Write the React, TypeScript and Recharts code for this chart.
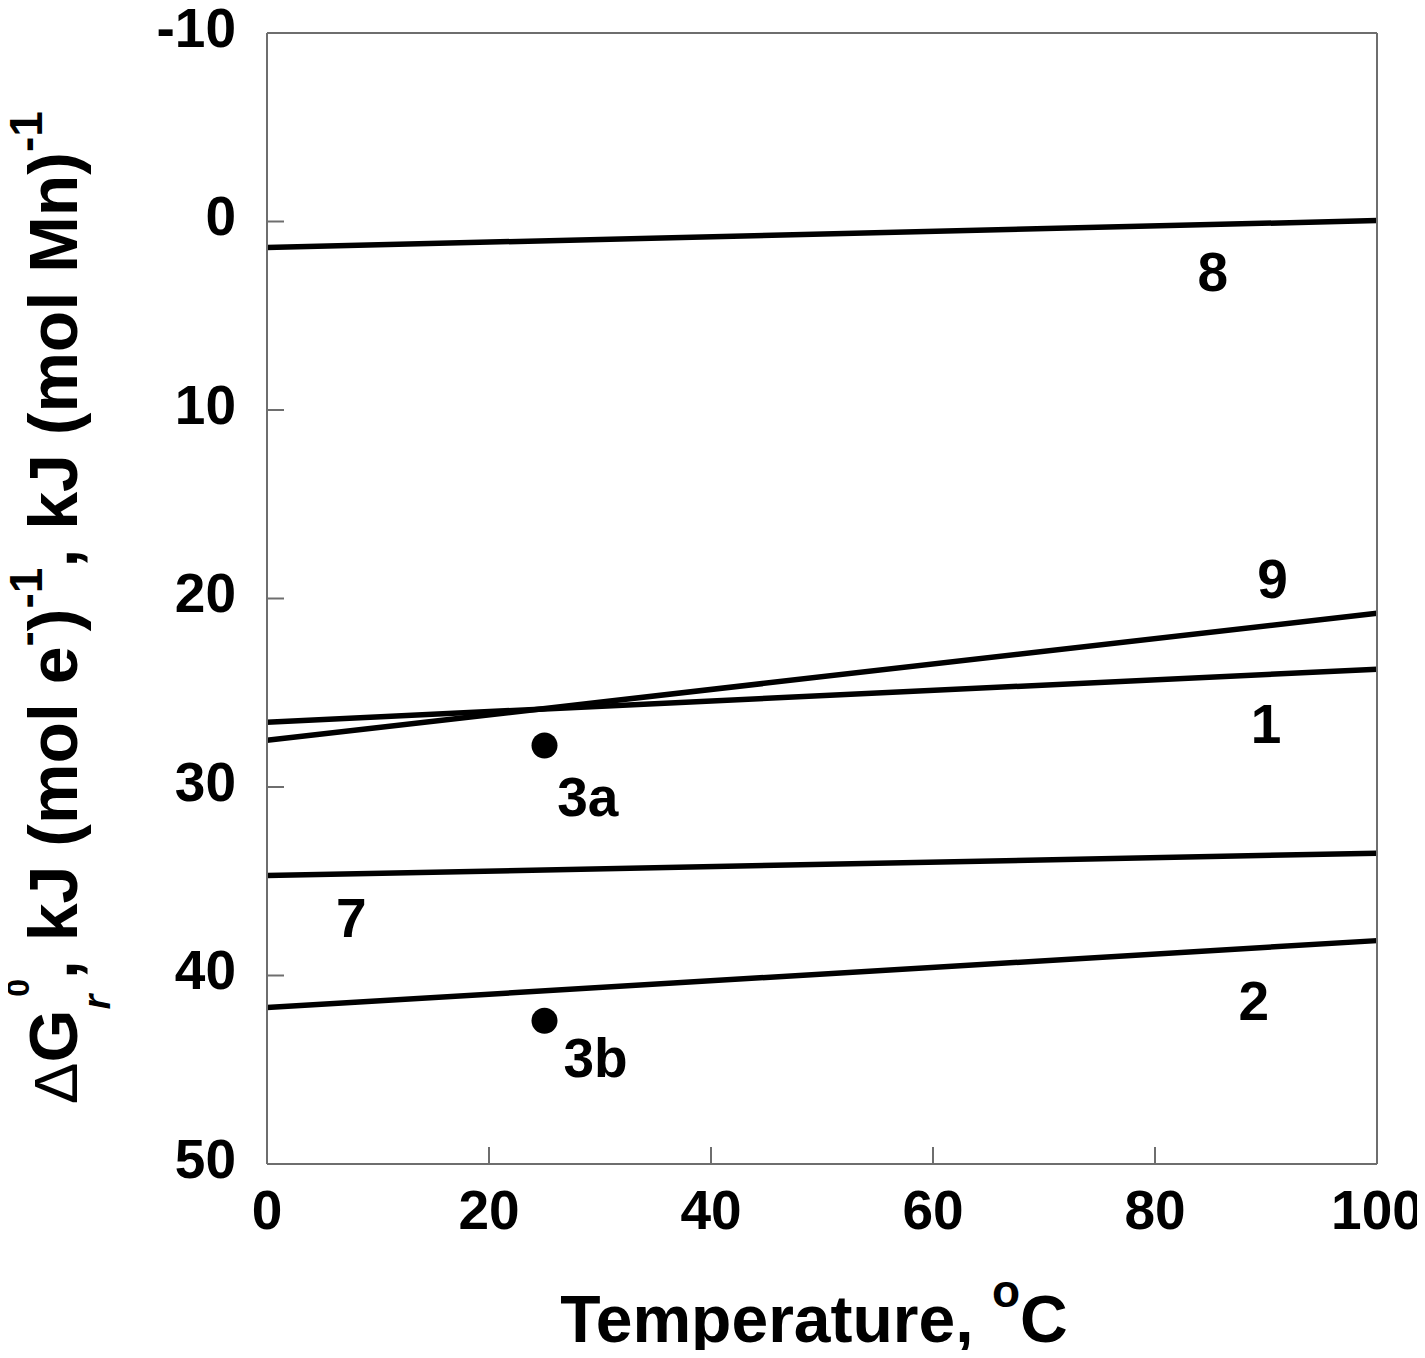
import React from 'react';
import { ComposedChart, Line, Scatter, XAxis, YAxis, Label } from 'recharts';

// temperature endpoints (°C) for the straight reaction lines
const temperature = [0, 100];

// ΔG°r values read at 0 °C and 100 °C
const curve1 = [26.56, 23.75];
const curve2 = [41.7, 38.15];
const curve7 = [34.7, 33.51];
const curve8 = [1.38, -0.05];
const curve9 = [27.52, 20.78];

// single points at 25 °C
const pointTemp = [25, 25];
const pointG = [27.8, 42.4];

// annotation labels
const labelNames = ['8', '9', '1', '3a', '7', '2', '3b'];
const labelTemp = [85.2, 90.6, 90.0, 28.9, 7.6, 88.9, 29.6];
const labelG = [2.65, 18.94, 26.6, 30.5, 36.9, 41.3, 44.35];

const xTicks = [0, 20, 40, 60, 80, 100];
const yTicks = [-10, 0, 10, 20, 30, 40, 50];

const FONT = '"Liberation Sans", Arial, sans-serif';
const FRAME = '#6e6e6e';

const toPoints = (ys: number[]) => temperature.map((x, i) => ({ x, y: ys[i] }));
const curves = [curve1, curve2, curve7, curve8, curve9].map(toPoints);
const points = pointTemp.map((x, i) => ({ x, y: pointG[i] }));
const labels = labelNames.map((name, i) => ({ x: labelTemp[i], y: labelG[i], name }));

const tickStyle = { fontSize: 55, fontWeight: 'bold', fill: '#000', fontFamily: FONT };
const frameLine = { stroke: FRAME, strokeWidth: 2 };

const NoTick = () => <g />;

const XTitle = (props: any) => {
  const { x, y, width } = props.viewBox;
  return (
    <text x={x + width / 2 - 8} y={y + 178} textAnchor="middle" fontSize={66} fontWeight="bold" fontFamily={FONT} fill="#000">
      Temperature,{' '}
      <tspan fontSize={46} dy={-35}>o</tspan>
      <tspan dy={35}>C</tspan>
    </text>
  );
};

const YTitle = (props: any) => {
  const { x, y, height } = props.viewBox;
  const bx = x - 30;
  const by = y + height / 2 + 9;
  return (
    <text x={bx} y={by} transform={`rotate(-90 ${bx} ${by})`} textAnchor="middle" fontSize={68} fontWeight="bold" fontFamily={FONT} fill="#000">
      <tspan fontWeight="normal" fontSize={62}>Δ</tspan>
      <tspan>G</tspan>
      <tspan fontSize={38} fontStyle="italic" dy={33}>r</tspan>
      <tspan fontSize={32} dx={-2} dy={-81}>0</tspan>
      <tspan dy={48}>, kJ (mol e</tspan>
      <tspan fontSize={46} dy={-35}>-</tspan>
      <tspan dy={35}>)</tspan>
      <tspan fontSize={46} dy={-35}>-1</tspan>
      <tspan dy={35}>, kJ (mol Mn)</tspan>
      <tspan fontSize={46} dy={-35}>-1</tspan>
    </text>
  );
};

const Dot = (props: any) => <circle cx={props.cx} cy={props.cy} r={13} fill="#000" />;

const Tag = (props: any) => (
  <text x={props.cx} y={props.cy} dy="0.36em" textAnchor="middle" fontSize={55} fontWeight="bold" fontFamily={FONT} fill="#000">
    {props.payload.name}
  </text>
);

export default function App() {
  return (
    <div style={{ width: 1425, height: 1358, margin: -8, background: '#fff' }}>
      <ComposedChart width={1425} height={1358} margin={{ top: 32, right: 47, left: 107, bottom: 44 }}>
        <XAxis
          dataKey="x"
          type="number"
          domain={[0, 100]}
          ticks={xTicks}
          interval={0}
          height={150}
          tickSize={-17}
          tickMargin={43}
          tick={tickStyle}
          axisLine={frameLine}
          tickLine={frameLine}
        >
          <Label content={XTitle} />
        </XAxis>
        <XAxis
          xAxisId="top"
          orientation="top"
          type="number"
          domain={[0, 100]}
          ticks={xTicks}
          interval={0}
          height={1}
          tickSize={-17}
          tick={NoTick}
          axisLine={frameLine}
          tickLine={frameLine}
        />
        <YAxis
          dataKey="y"
          type="number"
          domain={[-10, 50]}
          ticks={yTicks}
          interval={0}
          reversed
          width={160}
          tickSize={-17}
          tickMargin={48}
          tick={{ ...tickStyle, dy: -6 }}
          axisLine={frameLine}
          tickLine={frameLine}
        >
          <Label content={YTitle} />
        </YAxis>
        <YAxis
          yAxisId="right"
          orientation="right"
          type="number"
          domain={[-10, 50]}
          ticks={yTicks}
          interval={0}
          reversed
          width={1}
          tickSize={-17}
          tick={NoTick}
          axisLine={frameLine}
          tickLine={frameLine}
        />
        {curves.map((d, i) => (
          <Line
            key={i}
            data={d}
            dataKey="y"
            type="linear"
            stroke="#000"
            strokeWidth={5.5}
            dot={false}
            activeDot={false}
            isAnimationActive={false}
          />
        ))}
        <Scatter data={points} dataKey="y" shape={Dot} isAnimationActive={false} />
        <Scatter data={labels} dataKey="y" shape={Tag} isAnimationActive={false} />
      </ComposedChart>
    </div>
  );
}
